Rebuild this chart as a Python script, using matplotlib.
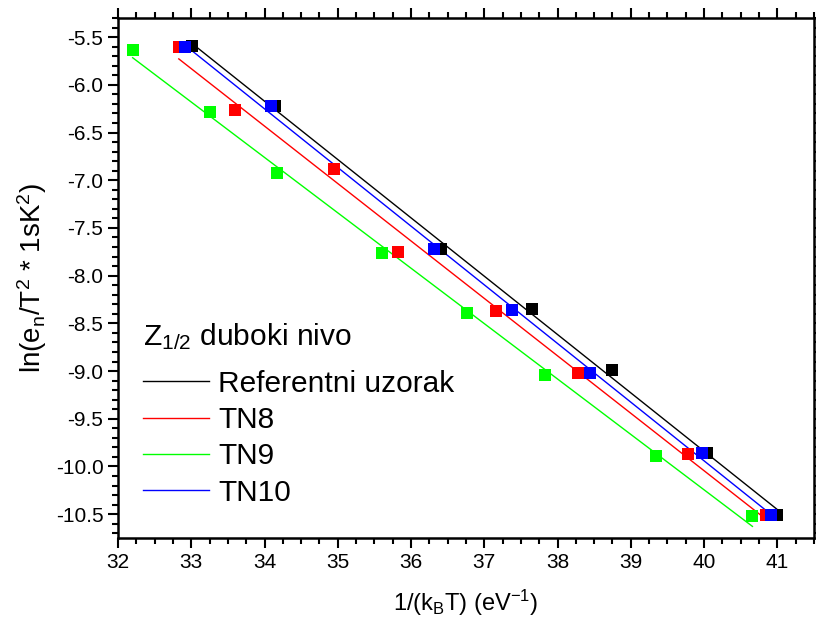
import numpy as np
import matplotlib.pyplot as plt
from matplotlib.ticker import MultipleLocator

plt.rcParams['font.family'] = ['Liberation Sans', 'DejaVu Sans']
plt.rcParams['mathtext.fontset'] = 'custom'
plt.rcParams['mathtext.rm'] = 'Liberation Sans'
plt.rcParams['mathtext.it'] = 'Liberation Sans'

# 1/(kB T) in eV^-1 and ln(en/T^2) for each sample
x_ref = [33.01, 34.14, 36.41, 37.65, 38.74, 40.04, 40.99]
y_ref = [-5.595, -6.226, -7.72, -8.35, -8.99, -9.86, -10.51]
x_tn8 = [32.83, 33.60, 34.95, 35.82, 37.16, 38.28, 39.78, 40.85]
y_tn8 = [-5.605, -6.26, -6.88, -7.75, -8.37, -9.02, -9.87, -10.51]
x_tn9 = [32.20, 33.26, 34.17, 35.60, 36.77, 37.83, 39.34, 40.66]
y_tn9 = [-5.64, -6.28, -6.92, -7.76, -8.39, -9.04, -9.89, -10.52]
x_tn10 = [32.91, 34.09, 36.31, 37.38, 38.44, 39.97, 40.92]
y_tn10 = [-5.605, -6.226, -7.72, -8.36, -9.02, -9.86, -10.51]

labels = ['Referentni uzorak', 'TN8', 'TN9', 'TN10']
colors = ['black', '#ff0000', '#00ff00', '#0000ff']
series = [(x_ref, y_ref), (x_tn8, y_tn8), (x_tn9, y_tn9), (x_tn10, y_tn10)]

fig = plt.figure(figsize=(8.16, 6.22), dpi=100)
ax = fig.add_axes([0.1446, 0.135, 0.8529, 0.836])

# linear fits
for (xs, ys), c, lab in zip(series, colors, labels):
    k, b = np.polyfit(xs, ys, 1)
    xf = np.array([min(xs), max(xs)])
    ax.plot(xf, k * xf + b, color=c, lw=1, label=lab, zorder=2)

# data points, blue on top
for (xs, ys), c in zip(series, colors):
    ax.plot(xs, ys, 's', color=c, ms=8.3, mec=c, mew=0, zorder=3)

ax.set_xlim(32, 41.5)
ax.set_ylim(-10.75, -5.3)
ax.xaxis.set_major_locator(MultipleLocator(1))
ax.xaxis.set_minor_locator(MultipleLocator(0.25))
ax.yaxis.set_major_locator(MultipleLocator(0.5))
ax.yaxis.set_minor_locator(MultipleLocator(0.1))
ax.tick_params(which='both', direction='out', top=True, right=True, width=1.5)
ax.tick_params(which='major', length=7)
ax.tick_params(which='minor', length=4)
for s in ax.spines.values():
    s.set_linewidth(1.8)

narrow = ['Liberation Sans Narrow', 'Liberation Sans', 'DejaVu Sans']
for t in ax.get_xticklabels() + ax.get_yticklabels():
    t.set_family(narrow)
    t.set_fontsize(15)
ax.yaxis.set_major_formatter(plt.FuncFormatter(lambda v, p: f'{v:.1f}'))

ax.set_xlabel(r'1/(k$_\mathregular{B}$T) (eV$^\mathregular{-1}$)', fontsize=17, family=narrow, labelpad=12)
ax.set_ylabel(r'ln(e$_\mathregular{n}$/T$^\mathregular{2}$ * 1sK$^\mathregular{2}$)', fontsize=20, family=narrow, labelpad=5)

leg = ax.legend(title=r'Z$_\mathregular{1/2}$ duboki nivo', loc='upper left',
                bbox_to_anchor=(0.015, 0.445), frameon=False, fontsize=21.5,
                title_fontsize=21.5, handlelength=2.2, handletextpad=0.3,
                labelspacing=0.28, borderpad=0, alignment='left')
leg._legend_box.sep = 12.5

fig.savefig('out.png', dpi=100)
